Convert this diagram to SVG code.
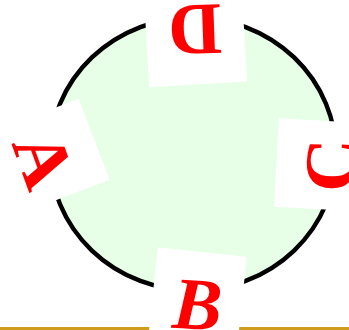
<svg xmlns="http://www.w3.org/2000/svg" width="349" height="330" viewBox="0 0 349 330">
<style>
.box{fill:#ffffff}
.lbl{font-family:"Liberation Serif","Times New Roman",serif;font-weight:bold;font-size:74px;fill:#ff0000;text-anchor:middle}
</style>
<rect x="0" y="327" width="349" height="3" fill="#cf9c1c"/>
<g id="ring">
<ellipse cx="193" cy="154" rx="143" ry="136.5" fill="#e6ffe6" stroke="#000000" stroke-width="4.5"/>
</g>
<g id="nodeD" transform="translate(195,29.7)">
<rect class="box" transform="rotate(176.7)" x="-49" y="-54.8" width="98" height="109.6"/>
<text class="lbl" transform="rotate(178)" x="0" y="24.5">D</text>
</g>
<g id="nodeB" transform="translate(197.5,304.5)">
<rect class="box" transform="rotate(6)" x="-45.5" y="-52.7" width="89.5" height="105.4"/>
<text class="lbl" transform="rotate(3)" x="0" y="24.5" font-style="italic">B</text>
</g>
<g id="nodeC" transform="translate(331.2,165.3)">
<rect class="box" transform="rotate(-86.8)" x="-44.5" y="-54.7" width="88.5" height="109.4"/>
<text class="lbl" transform="rotate(-88)" x="0" y="24.5">C</text>
</g>
<g id="nodeA" transform="translate(43.5,160)">
<rect class="box" transform="rotate(69.1)" x="-44.75" y="-54.8" width="86.7" height="109.6"/>
<text class="lbl" transform="rotate(70)" x="0" y="24.5">A</text>
</g>
</svg>
